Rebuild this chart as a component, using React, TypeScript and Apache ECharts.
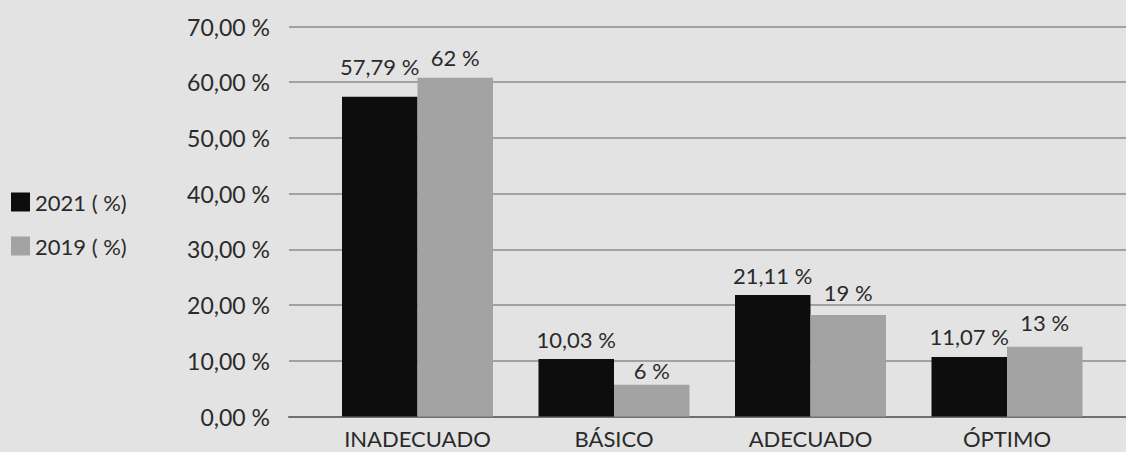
import React, { useEffect, useRef } from "react";
import * as echarts from "echarts";

const categories = ["INADECUADO", "BÁSICO", "ADECUADO", "ÓPTIMO"];
const seriesNames = ["2021 ( %)", "2019 ( %)"];
// bar heights as drawn in the picture
const values2021 = [57.4, 10.3, 21.8, 10.7];
const values2019 = [60.8, 5.7, 18.2, 12.5];
// data labels as printed
const labels2021 = ["57,79 %", "10,03 %", "21,11 %", "11,07 %"];
const labels2019 = ["62 %", "6 %", "19 %", "13 %"];
const yTicks = [0, 10, 20, 30, 40, 50, 60, 70];

const FONT = "Lato";
const TEXT = "#2a2a2a";
// manual label placement tweaks (pixels, vertical) as in the reference
const nudge2021 = [-10, 0, 0, 0];
const nudge2019 = [0, 6, -3, -4];

function buildData(values: number[], labels: string[], nudge: number[]) {
  return values.map((v, i) => ({
    value: v,
    label: { formatter: labels[i], offset: [0, nudge[i]] },
  }));
}

export default function App() {
  const ref = useRef<HTMLDivElement>(null);
  useEffect(() => {
    if (!ref.current) return;
    const chart = echarts.init(ref.current, null, { renderer: "svg" });
    const yMin = yTicks[0];
    const yMax = yTicks[yTicks.length - 1];
    const interval = yTicks[1] - yTicks[0];
    const labelStyle = {
      show: true,
      position: "top",
      distance: 9,
      fontFamily: FONT,
      fontSize: 22,
      color: TEXT,
    };
    chart.setOption({
      animation: false,
      backgroundColor: "#e3e3e3",
      textStyle: { fontFamily: FONT },
      legend: {
        orient: "vertical",
        left: 11,
        top: 191,
        padding: 0,
        itemWidth: 19,
        itemHeight: 19,
        itemGap: 22,
        icon: "rect",
        data: seriesNames,
        textStyle: { fontFamily: FONT, fontSize: 22, color: TEXT },
      },
      grid: [
        { left: 289, right: 0, top: 26.5, bottom: 35.5 },
        { left: 319.25, right: 20.75, top: 26.5, bottom: 35.5 },
      ],
      xAxis: [
        {
          gridIndex: 0,
          type: "value",
          min: 0,
          max: 1,
          axisLine: { show: true, lineStyle: { color: "#707070", width: 2 } },
          axisTick: { show: false },
          axisLabel: { show: false },
          splitLine: { show: false },
        },
        {
          gridIndex: 1,
          type: "category",
          data: categories,
          axisLine: { show: false },
          axisTick: { show: false },
          axisLabel: {
            interval: 0,
            fontFamily: FONT,
            fontSize: 22,
            lineHeight: 20,
            color: TEXT,
            margin: 12,
          },
        },
      ],
      yAxis: [
        {
          gridIndex: 0,
          type: "value",
          min: yMin,
          max: yMax,
          interval,
          axisLine: { show: false },
          axisTick: { show: false },
          axisLabel: {
            fontFamily: FONT,
            fontSize: 23,
            color: TEXT,
            margin: 19,
            formatter: (v: number) => v.toFixed(2).replace(".", ",") + " %",
          },
          splitLine: { show: true, lineStyle: { color: "#8c8c8c", width: 1.5 } },
        },
        {
          gridIndex: 1,
          type: "value",
          min: yMin,
          max: yMax,
          interval,
          show: false,
          splitLine: { show: false },
        },
      ],
      series: [
        {
          name: seriesNames[0],
          type: "bar",
          xAxisIndex: 1,
          yAxisIndex: 1,
          data: buildData(values2021, labels2021, nudge2021),
          barWidth: 75.5,
          barGap: "0%",
          itemStyle: { color: "#0d0d0d" },
          label: labelStyle,
        },
        {
          name: seriesNames[1],
          type: "bar",
          xAxisIndex: 1,
          yAxisIndex: 1,
          data: buildData(values2019, labels2019, nudge2019),
          barWidth: 75.5,
          barGap: "0%",
          itemStyle: { color: "#a3a3a3" },
          label: labelStyle,
        },
      ],
    });
    return () => chart.dispose();
  }, []);
  return (
    <div
      ref={ref}
      style={{ position: "absolute", left: 0, top: 0, width: 1126, height: 452 }}
    />
  );
}
